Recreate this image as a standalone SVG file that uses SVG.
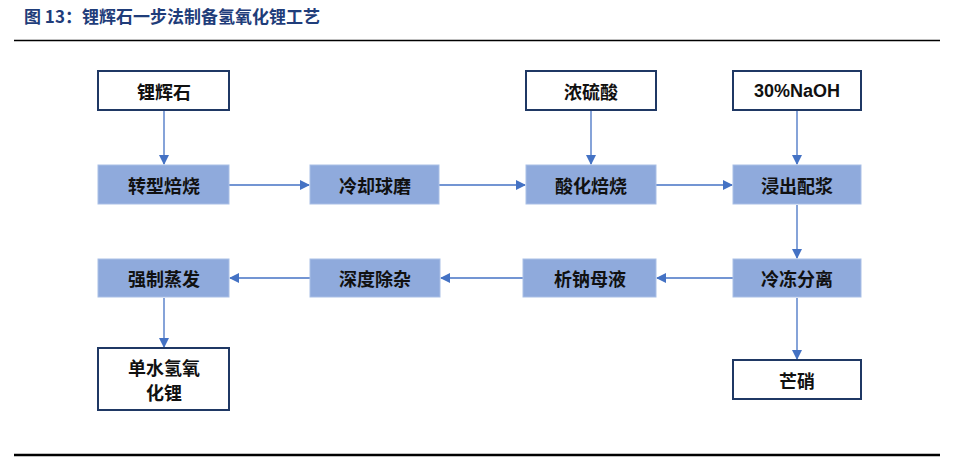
<svg xmlns="http://www.w3.org/2000/svg" width="959" height="462" viewBox="0 0 959 462">
<style>
.w{fill:#fff;stroke:#1F3864;stroke-width:2}
.f{fill:#8FAADC;stroke:#A9BFE6;stroke-width:1}
text{font-family:"Noto Sans CJK SC",sans-serif;font-size:18px;font-weight:bold;text-anchor:middle;dominant-baseline:central;fill:#111}
.c line{stroke:#4472C4;stroke-width:1.3;marker-end:url(#a)}
</style>
<defs><marker id="a" markerWidth="10" markerHeight="10" refX="9" refY="5" orient="auto" markerUnits="userSpaceOnUse"><path d="M0,0L10,5L0,10z" fill="#4472C4"/></marker></defs>
<rect width="959" height="462" fill="#fff"/>
<text x="24" y="15" style="text-anchor:start;fill:#1F3D7A;font-size:17px">图 13：锂辉石一步法制备氢氧化锂工艺</text>
<line x1="14" y1="40.5" x2="940" y2="40.5" stroke="#000" stroke-width="1.5"/>
<line x1="14" y1="455" x2="940" y2="455" stroke="#000" stroke-width="2.5"/>
<g class="c">
<line x1="164" y1="111" x2="164" y2="164"/>
<line x1="591" y1="111" x2="591" y2="164"/>
<line x1="797" y1="111" x2="797" y2="164"/>
<line x1="229" y1="185" x2="309" y2="185"/>
<line x1="439" y1="185" x2="525" y2="185"/>
<line x1="656" y1="185" x2="732" y2="185"/>
<line x1="797" y1="205" x2="797" y2="258"/>
<line x1="733" y1="278" x2="657" y2="278"/>
<line x1="523" y1="278" x2="441" y2="278"/>
<line x1="310" y1="278" x2="230" y2="278"/>
<line x1="164" y1="298" x2="164" y2="347"/>
<line x1="797" y1="298" x2="797" y2="359"/>
</g>
<g id="n1"><rect class="w" x="98" y="71" width="131" height="39"/><text x="164" y="91">锂辉石</text></g>
<g id="n2"><rect class="w" x="526" y="71" width="130" height="39"/><text x="591" y="91">浓硫酸</text></g>
<g id="n3"><rect class="w" x="733" y="71" width="128" height="39"/><text x="797" y="91" style="font-family:'Liberation Sans',sans-serif">30%NaOH</text></g>
<g id="n4"><rect class="f" x="98" y="165" width="131" height="39"/><text x="164" y="185">转型焙烧</text></g>
<g id="n5"><rect class="f" x="310" y="165" width="129" height="39"/><text x="375" y="185">冷却球磨</text></g>
<g id="n6"><rect class="f" x="526" y="165" width="130" height="39"/><text x="591" y="185">酸化焙烧</text></g>
<g id="n7"><rect class="f" x="733" y="165" width="128" height="39"/><text x="797" y="185">浸出配浆</text></g>
<g id="n8"><rect class="f" x="733" y="259" width="128" height="38"/><text x="797" y="278">冷冻分离</text></g>
<g id="n9"><rect class="f" x="523" y="259" width="133" height="38"/><text x="590" y="278">析钠母液</text></g>
<g id="n10"><rect class="f" x="310" y="259" width="130" height="38"/><text x="375" y="278">深度除杂</text></g>
<g id="n11"><rect class="f" x="98" y="259" width="131" height="38"/><text x="164" y="278">强制蒸发</text></g>
<g id="n12"><rect class="w" x="98" y="348" width="131" height="62"/><text x="164" y="367">单水氢氧</text><text x="164" y="392">化锂</text></g>
<g id="n13"><rect class="w" x="733" y="360" width="128" height="39"/><text x="797" y="380">芒硝</text></g>
</svg>
